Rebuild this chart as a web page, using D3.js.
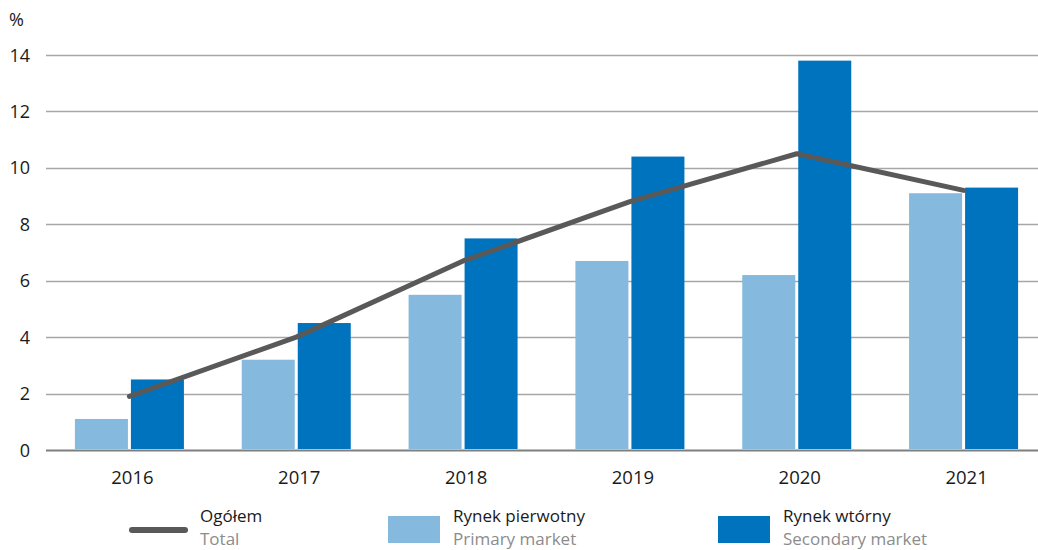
<!DOCTYPE html>
<html>
<head>
<meta charset="utf-8">
<script src="https://cdn.jsdelivr.net/npm/d3@7"></script>
<style>
  body { margin: 0; background: #fff; }
  svg { display: block; font-family: "Open Sans", "Noto Sans", sans-serif; }
</style>
</head>
<body>
<svg></svg>
<script>
const width = 1038;
const height = 550;

const years = ['2016', '2017', '2018', '2019', '2020', '2021'];
const primary = [1.1, 3.2, 5.5, 6.7, 6.2, 9.1];
const secondary = [2.5, 4.5, 7.5, 10.4, 13.8, 9.3];
const total = [1.9, 4.0, 6.7, 8.8, 10.5, 9.2];
const yTicks = [0, 2, 4, 6, 8, 10, 12, 14];

const svg = d3.select('svg')
  .attr('width', width)
  .attr('height', height);

const x = d3.scaleBand()
  .domain(years)
  .range([46, 1047]);

const y = d3.scaleLinear()
  .domain([0, 14])
  .range([450, 55]);

// grid
svg.append('g')
  .selectAll('line')
  .data(yTicks)
  .enter()
  .append('line')
  .attr('x1', 46)
  .attr('x2', width)
  .attr('y1', d => Math.round(y(d)) + 0.5)
  .attr('y2', d => Math.round(y(d)) + 0.5)
  .attr('stroke', d => d === 0 ? '#7f7f7f' : '#a6a6a6')
  .attr('stroke-width', d => d === 0 ? 2 : 1.3);

// y labels
svg.append('g')
  .selectAll('text')
  .data(yTicks)
  .enter()
  .append('text')
  .attr('x', 30)
  .attr('y', d => y(d) + 6.5)
  .attr('text-anchor', 'end')
  .attr('font-size', 18)
  .attr('fill', '#1a1a1a')
  .text(d => d);

svg.append('text')
  .attr('x', 9)
  .attr('y', 26)
  .attr('font-size', 18)
  .attr('fill', '#1a1a1a')
  .text('%');

const barW = 53;
const gap = 3;

// bars
svg.append('g')
  .selectAll('rect')
  .data(years)
  .enter()
  .append('rect')
  .attr('x', d => x(d) + x.bandwidth() / 2 - gap / 2 - barW)
  .attr('y', (d, i) => y(primary[i]))
  .attr('width', barW)
  .attr('height', (d, i) => y(0) - y(primary[i]) - 1)
  .attr('fill', '#85b9dd');

svg.append('g')
  .selectAll('rect')
  .data(years)
  .enter()
  .append('rect')
  .attr('x', d => x(d) + x.bandwidth() / 2 + gap / 2)
  .attr('y', (d, i) => y(secondary[i]))
  .attr('width', barW)
  .attr('height', (d, i) => y(0) - y(secondary[i]) - 1)
  .attr('fill', '#0073be');

// total line
const line = d3.line()
  .x((d, i) => x(years[i]) + x.bandwidth() / 2)
  .y(d => y(d));

svg.append('path')
  .datum(total)
  .attr('d', line)
  .attr('fill', 'none')
  .attr('stroke', '#595959')
  .attr('stroke-width', 5)
  .attr('stroke-linecap', 'round')
  .attr('stroke-linejoin', 'round');

// x labels
svg.append('g')
  .selectAll('text')
  .data(years)
  .enter()
  .append('text')
  .attr('x', d => x(d) + x.bandwidth() / 2 + 3)
  .attr('y', 484)
  .attr('text-anchor', 'middle')
  .attr('font-size', 18.5)
  .attr('fill', '#1a1a1a')
  .text(d => d);

// legend
const legend = svg.append('g');

legend.append('line')
  .attr('x1', 132).attr('x2', 185)
  .attr('y1', 530).attr('y2', 530)
  .attr('stroke', '#595959')
  .attr('stroke-width', 6)
  .attr('stroke-linecap', 'round');

legend.append('rect')
  .attr('x', 388).attr('y', 516)
  .attr('width', 52).attr('height', 27)
  .attr('fill', '#85b9dd');

legend.append('rect')
  .attr('x', 718).attr('y', 516)
  .attr('width', 52).attr('height', 27)
  .attr('fill', '#0073be');

const items = [
  { x: 200, pl: 'Ogółem', en: 'Total' },
  { x: 453, pl: 'Rynek pierwotny', en: 'Primary market' },
  { x: 783, pl: 'Rynek wtórny', en: 'Secondary market' }
];

items.forEach(function(d) {
  legend.append('text')
    .attr('x', d.x).attr('y', 522)
    .attr('font-size', 17)
    .attr('fill', '#1a1a1a')
    .text(d.pl);
  legend.append('text')
    .attr('x', d.x).attr('y', 545)
    .attr('font-size', 17)
    .attr('fill', '#8c8c8c')
    .text(d.en);
});
</script>
</body>
</html>
